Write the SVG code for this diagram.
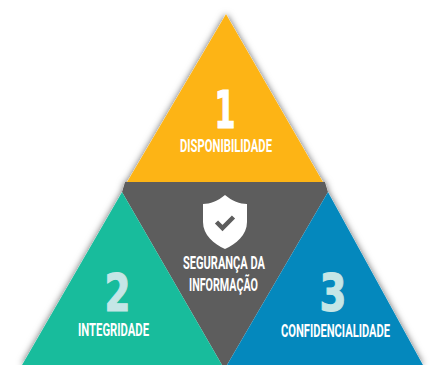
<svg xmlns="http://www.w3.org/2000/svg" width="430" height="365" viewBox="0 0 430 365">
<style>
.l{font-family:"Roboto","Liberation Sans",sans-serif;font-weight:700;font-size:18px;fill:#fff;text-anchor:middle}
.n{font-family:"DejaVu Sans",sans-serif;font-weight:700;font-size:52px;text-anchor:middle;stroke-width:1.200px;stroke-linejoin:miter}
</style>
<defs>
<filter id="s" x="-10%" y="-10%" width="120%" height="120%"><feDropShadow dx="0" dy="0" stdDeviation="3.500" flood-color="#000" flood-opacity="0.6"/></filter>
</defs>
<rect width="430" height="365" fill="#fff"/>
<g id="shadow"><polygon filter="url(#s)" points="226,14 323,182 325,182 328,192 423,365 22,365 122,192 125,182 127,182" fill="#fff"/></g>
<g id="node-center">
<polygon points="125,182 325,182 328,192 227,365 222,365 122,192" fill="#5d5d5d"/>
<path d="M225,195 C232,201 240,204 247,204 L247,222 C247,235 236,244 225,249 C214,244 203,235 203,222 L203,204 C210,204 218,201 225,195 Z" fill="#fff"/>
<path d="M216.500,222 L222.500,228 L233.500,217" fill="none" stroke="#5d5d5d" stroke-width="4.500"/>
<text class="l" x="224" y="269" textLength="82" lengthAdjust="spacingAndGlyphs">SEGURANÇA DA</text>
<text class="l" x="223.500" y="291" textLength="69" lengthAdjust="spacingAndGlyphs">INFORMAÇÃO</text>
</g>
<g id="node-1">
<polygon points="226,14 323,182 127,182" fill="#fdb415"/>
<text class="n" x="225" y="128" textLength="21" lengthAdjust="spacingAndGlyphs" fill="#fff" stroke="#fff">1</text>
<text class="l" x="226" y="152" textLength="92" lengthAdjust="spacingAndGlyphs">DISPONIBILIDADE</text>
</g>
<g id="node-2">
<polygon points="122,192 222,365 22,365" fill="#18bc9c"/>
<text class="n" x="117.500" y="311" textLength="26" lengthAdjust="spacingAndGlyphs" fill="#c5e6e6" stroke="#c5e6e6">2</text>
<text class="l" x="113.500" y="336" textLength="71" lengthAdjust="spacingAndGlyphs">INTEGRIDADE</text>
</g>
<g id="node-3">
<polygon points="328,192 423,365 227,365" fill="#0488bd"/>
<text class="n" x="333" y="311" textLength="27" lengthAdjust="spacingAndGlyphs" fill="#c5e6e6" stroke="#c5e6e6">3</text>
<text class="l" style="font-size:14.400px" transform="translate(335.500 337) scale(1 1.250)" textLength="109" lengthAdjust="spacingAndGlyphs">CONFIDENCIALIDADE</text>
</g>
<g id="connectors"/>
</svg>
